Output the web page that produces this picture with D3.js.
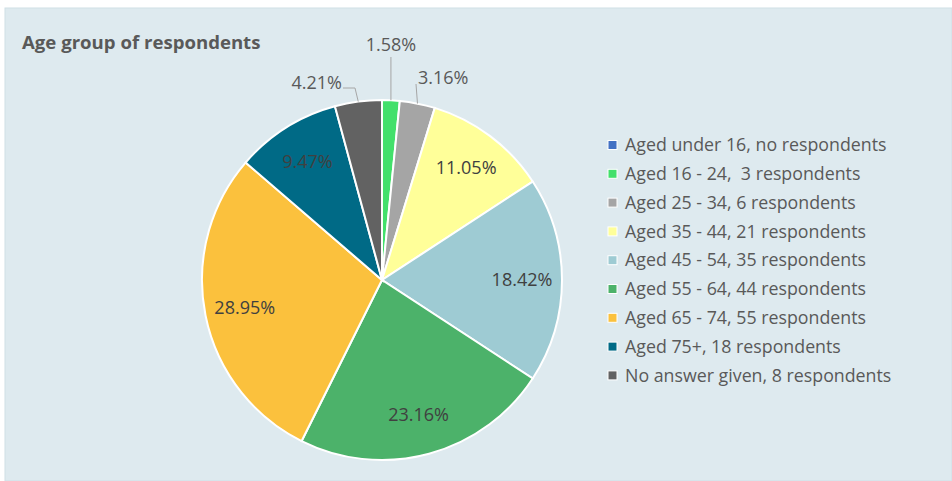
<!DOCTYPE html>
<meta charset="utf-8">
<head>
<style>
body { margin: 0; background: #fff; }
svg text { font-family: "Open Sans", Lato, sans-serif; white-space: pre; }
.title { font-size: 18.6px; font-weight: bold; fill: #595959; }
.legend text { font-size: 17.8px; fill: #595959; }
.pct { font-size: 18px; fill: #404040; }
.pct-out { font-size: 18px; fill: #595959; }
.leader { stroke: #a6a6a6; fill: none; stroke-width: 1; }
</style>
</head>
<body>
<svg width="952" height="481"></svg>
<script src="https://d3js.org/d3.v7.min.js"></script>
<script>

var categories = [
  "Aged under 16, no respondents",
  "Aged 16 - 24,  3 respondents",
  "Aged 25 - 34, 6 respondents",
  "Aged 35 - 44, 21 respondents",
  "Aged 45 - 54, 35 respondents",
  "Aged 55 - 64, 44 respondents",
  "Aged 65 - 74, 55 respondents",
  "Aged 75+, 18 respondents",
  "No answer given, 8 respondents"
];
var counts = [0, 3, 6, 21, 35, 44, 55, 18, 8];
var colors = ["#4472c4", "#43e06b", "#a5a5a5", "#ffff99", "#9ecbd3",
              "#4cb26a", "#fbc13d", "#006a86", "#626262"];

var svg = d3.select("svg"),
    width = +svg.attr("width"),
    height = +svg.attr("height");

// chart panel
svg.append("rect")
    .attr("x", 5).attr("y", 8)
    .attr("width", width - 5).attr("height", height - 8)
    .attr("fill", "#deeaef")
    .attr("stroke", "#d0dfe6");

svg.append("text")
    .attr("class", "title")
    .attr("x", 22).attr("y", 49)
    .text("Age group of respondents");

var cx = 382, cy = 280, R = 180;
var total = d3.sum(counts);

var pie = d3.pie().sort(null).value(function(d) { return d; });
var arcs = pie(counts);
var arc = d3.arc().innerRadius(0).outerRadius(R);
var labelArc = d3.arc().innerRadius(140).outerRadius(140);

var g = svg.append("g").attr("transform", "translate(" + cx + "," + cy + ")");

g.selectAll("path.slice")
  .data(arcs.filter(function(d) { return d.value > 0; }))
  .enter().append("path")
    .attr("class", "slice")
    .attr("d", arc)
    .attr("fill", function(d) { return colors[d.index]; })
    .attr("stroke", "#fff")
    .attr("stroke-width", 2);

function pct(v) { return (v / total * 100).toFixed(2) + "%"; }

// small slices get their labels outside with a leader line
var outside = {
  1: { tx: 8, ty: -229, anchor: "middle", pts: [[0, -223]] },
  2: { tx: 36, ty: -196, anchor: "start", pts: [[34, -196]] },
  8: { tx: -40, ty: -191, anchor: "end", pts: [[-27, -192], [-39, -192]] }
};

arcs.forEach(function(d) {
  if (d.value === 0) return;
  var o = outside[d.index];
  if (o) {
    var mid = (d.startAngle + d.endAngle) / 2;
    var edge = [R * Math.sin(mid), -R * Math.cos(mid)];
    var pts = [edge].concat(o.pts.map(function(p, i) {
      return i === 0 && d.index === 1 ? [edge[0], p[1]] : p;
    }));
    g.append("path").attr("class", "leader").attr("d", d3.line()(pts));
    g.append("text")
      .attr("class", "pct-out")
      .attr("x", d.index === 1 ? edge[0] : o.tx)
      .attr("y", o.ty)
      .attr("text-anchor", o.anchor)
      .text(pct(d.value));
  } else {
    var c = labelArc.centroid(d);
    g.append("text")
      .attr("class", "pct")
      .attr("x", c[0]).attr("y", c[1])
      .attr("dy", "0.35em")
      .attr("text-anchor", "middle")
      .text(pct(d.value));
  }
});

// legend
var legend = svg.append("g").attr("class", "legend")
    .attr("transform", "translate(608,145)");

var rows = legend.selectAll("g")
  .data(categories)
  .enter().append("g")
    .attr("transform", function(d, i) { return "translate(0," + (i * 28.8) + ")"; });

rows.append("rect")
    .attr("x", 0).attr("y", -4.5)
    .attr("width", 9).attr("height", 9)
    .attr("fill", function(d, i) { return colors[i]; })
    .attr("stroke", "#fff").attr("stroke-width", 1);

rows.append("text")
    .attr("x", 17).attr("dy", "0.35em")
    .text(function(d) { return d; });

</script>
</body>
</html>
